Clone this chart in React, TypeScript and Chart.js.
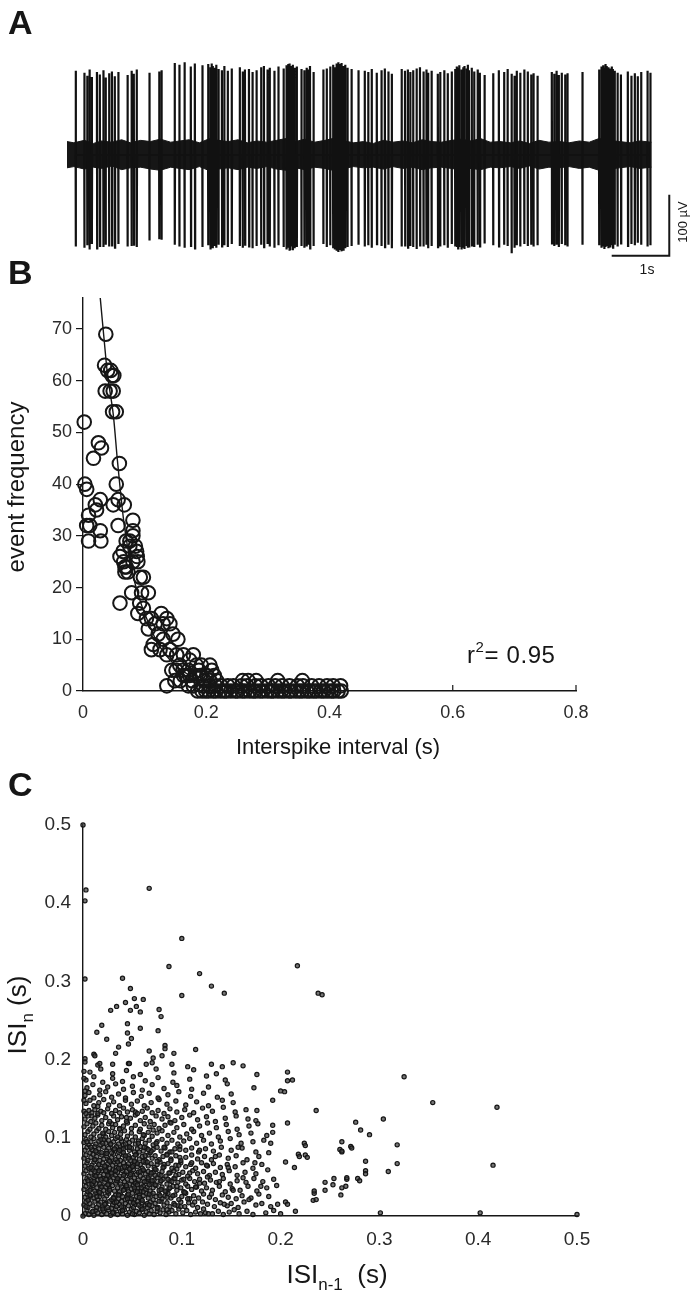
import React, { useEffect, useRef } from "react";
import { Chart, registerables } from "chart.js";

Chart.register(...registerables);

const FONT = "'Liberation Sans', Arial, Helvetica, sans-serif";
const INK = "#161616";

/* ---------------- Panel A : extracellular trace ---------------- */
const spikeTimes = [
  0.15, 0.30, 0.35, 0.39, 0.43, 0.52, 0.57, 0.63, 0.67, 0.73,
  0.78, 0.83, 0.89, 1.05, 1.12, 1.16, 1.21, 1.43, 1.60, 1.64,
  1.87, 1.95, 2.04, 2.15, 2.22, 2.35, 2.45, 2.49, 2.51, 2.53,
  2.56, 2.59, 2.63, 2.69, 2.73, 2.79, 2.86, 3.00, 3.05, 3.09,
  3.16, 3.22, 3.29, 3.37, 3.42, 3.48, 3.52, 3.60, 3.67, 3.76,
  3.81, 3.84, 3.86, 3.87, 3.90, 3.92, 3.95, 3.99, 4.07, 4.12,
  4.16, 4.19, 4.22, 4.28, 4.45, 4.51, 4.57, 4.62, 4.65, 4.68,
  4.70, 4.71, 4.74, 4.76, 4.77, 4.80, 4.83, 4.87, 4.94, 5.06,
  5.17, 5.23, 5.29, 5.38, 5.46, 5.52, 5.58, 5.64, 5.81, 5.87,
  5.92, 5.96, 6.01, 6.07, 6.13, 6.19, 6.24, 6.27, 6.33, 6.44,
  6.48, 6.55, 6.61, 6.68, 6.74, 6.77, 6.79, 6.81, 6.85, 6.88,
  6.90, 6.94, 6.96, 6.98, 7.03, 7.07, 7.13, 7.17, 7.25, 7.40,
  7.50, 7.59, 7.65, 7.72, 7.77, 7.81, 7.87, 7.94, 8.00, 8.06,
  8.10, 8.17, 8.42, 8.46, 8.50, 8.54, 8.59, 8.65, 8.69, 8.95,
  9.24, 9.28, 9.31, 9.33, 9.35, 9.37, 9.40, 9.43, 9.46, 9.48,
  9.51, 9.56, 9.62, 9.74, 9.80, 9.86, 9.91, 9.97, 10.08, 10.13,
];
const spikeUpUv = [
  138, 135, 130, 140, 128, 136, 132, 139, 127, 134,
  137, 129, 136, 131, 138, 133, 140, 135, 137, 139,
  151, 148, 152, 145, 150, 147, 149, 144, 150, 146,
  143, 148, 141, 139, 146, 138, 142, 144, 137, 140,
  141, 136, 139, 144, 146, 140, 143, 138, 145, 142,
  147, 149, 144, 150, 146, 148, 143, 145, 141, 139,
  143, 140, 146, 136, 140, 142, 145, 148, 144, 150,
  147, 152, 149, 145, 151, 146, 148, 143, 141, 139,
  138, 136, 141, 135, 139, 142, 137, 133, 141, 138,
  140, 136, 139, 142, 144, 137, 140, 135, 138, 133,
  136, 139, 134, 137, 141, 145, 143, 147, 140, 144,
  146, 142, 148, 139, 143, 137, 140, 135, 131, 134,
  139, 136, 141, 133, 130, 138, 135, 140, 137, 132,
  134, 130, 136, 133, 138, 131, 135, 132, 134, 136,
  140, 145, 147, 143, 149, 146, 144, 142, 145, 141,
  138, 135, 132, 137, 130, 134, 129, 136, 138, 135,
];
const spikeDownUv = [
  -150, -152, -148, -155, -146, -153, -149, -151, -147, -150,
  -148, -152, -146, -150, -149, -147, -151, -140, -138, -139,
  -147, -150, -152, -149, -153, -151, -148, -155, -150, -153,
  -149, -152, -147, -150, -148, -151, -146, -149, -152, -147,
  -150, -153, -149, -147, -151, -146, -150, -152, -148, -151,
  -155, -152, -157, -154, -150, -156, -153, -151, -149, -152,
  -150, -147, -153, -149, -146, -151, -148, -153, -155, -157,
  -156, -159, -154, -158, -155, -157, -153, -151, -149, -147,
  -150, -148, -152, -146, -149, -151, -147, -153, -150, -148,
  -152, -149, -151, -154, -148, -150, -147, -153, -149, -151,
  -150, -148, -152, -146, -150, -149, -153, -151, -155, -152,
  -154, -149, -152, -150, -148, -151, -147, -150, -145, -148,
  -150, -147, -149, -161, -152, -148, -150, -146, -149, -147,
  -150, -148, -145, -149, -147, -151, -146, -148, -150, -147,
  -148, -152, -150, -154, -151, -149, -153, -150, -148, -152,
  -147, -150, -145, -149, -146, -148, -144, -147, -150, -148,
];
const noiseTimes = [
  0, 0.12, 0.3, 0.46, 0.6, 0.78, 0.95, 1.1, 1.28, 1.45,
  1.62, 1.8, 1.96, 2.12, 2.3, 2.48, 2.63, 2.8, 2.97, 3.13,
  3.3, 3.47, 3.64, 3.8, 3.97, 4.13, 4.3, 4.48, 4.66, 4.82,
  4.98, 5.15, 5.32, 5.5, 5.66, 5.83, 6.0, 6.17, 6.33, 6.5,
  6.68, 6.85, 7.02, 7.18, 7.35, 7.52, 7.7, 7.86, 8.03, 8.2,
  8.37, 8.55, 8.72, 8.9, 9.07, 9.24, 9.42, 9.6, 9.78, 9.95,
  10.15,
];
const noiseTopUv = [
  22, 20, 24, 19, 23, 21, 25, 20, 24, 22,
  26, 21, 23, 25, 20, 27, 24, 22, 25, 20,
  23, 21, 24, 27, 22, 26, 21, 24, 28, 23,
  20, 22, 19, 24, 21, 23, 20, 25, 22, 21,
  24, 26, 23, 27, 21, 22, 20, 23, 19, 24,
  21, 22, 20, 23, 21, 27, 24, 22, 20, 23,
  21,
];
const noiseBottomUv = [
  -21, -19, -23, -20, -22, -18, -24, -21, -20, -23,
  -25, -20, -22, -24, -19, -26, -23, -21, -24, -20,
  -22, -19, -23, -25, -21, -24, -20, -22, -26, -22,
  -19, -21, -20, -23, -19, -22, -20, -24, -21, -20,
  -22, -25, -22, -24, -20, -21, -19, -22, -18, -23,
  -20, -21, -19, -22, -20, -25, -23, -21, -19, -22,
  -20,
];
const traceMaxSec = 10.16;
const scaleBarStartSec = 9.46;
const scaleBarSec = 1;
const scaleBarUv = 100;
const scaleBarBaseUv = -165;

/* ---------------- Panel B : ISI histogram ---------------- */
const isiHistogram: [number, number][] = [
  [0.037, 69], [0.035, 63], [0.040, 62], [0.045, 62], [0.047, 61], [0.050, 61],
  [0.036, 58], [0.044, 58], [0.049, 58], [0.048, 54], [0.054, 54], [0.002, 52],
  [0.025, 48], [0.030, 47], [0.017, 45], [0.059, 44], [0.003, 40], [0.006, 39],
  [0.054, 40], [0.028, 37], [0.020, 36], [0.022, 35], [0.057, 37], [0.049, 36],
  [0.067, 36], [0.009, 34], [0.011, 32], [0.006, 32], [0.028, 31], [0.057, 32],
  [0.009, 29], [0.029, 29], [0.081, 33], [0.081, 31], [0.076, 29], [0.066, 25],
  [0.068, 24], [0.068, 23], [0.085, 28], [0.088, 26], [0.089, 25], [0.093, 22],
  [0.070, 29], [0.081, 30], [0.076, 28], [0.087, 27], [0.065, 27], [0.060, 26],
  [0.070, 24], [0.081, 25], [0.073, 23], [0.098, 22], [0.079, 19], [0.060, 17],
  [0.095, 19], [0.106, 19], [0.092, 17], [0.098, 16], [0.089, 15], [0.103, 14],
  [0.111, 14], [0.127, 15], [0.136, 14], [0.117, 13], [0.130, 13], [0.106, 12],
  [0.122, 11], [0.141, 13], [0.146, 11], [0.154, 10], [0.114, 9], [0.130, 10],
  [0.111, 8], [0.125, 8], [0.141, 8], [0.136, 7], [0.152, 7], [0.163, 7],
  [0.179, 7], [0.173, 6], [0.157, 5], [0.184, 5], [0.192, 5], [0.206, 5],
  [0.136, 1], [0.149, 2], [0.144, 4], [0.163, 3], [0.173, 3], [0.190, 3], [0.206, 2],
];
const isiTailZero = [
  0.186, 0.193, 0.199, 0.204, 0.211, 0.216, 0.223, 0.229, 0.233, 0.24,
  0.247, 0.251, 0.258, 0.263, 0.27, 0.276, 0.28, 0.287, 0.292, 0.299,
  0.305, 0.309, 0.316, 0.322, 0.327, 0.334, 0.338, 0.345, 0.351, 0.356,
  0.363, 0.368, 0.374, 0.379, 0.386, 0.391, 0.397, 0.403, 0.407, 0.414, 0.419,
];
const isiTailLow: [number, number][] = [
  [0.171, 1], [0.179, 1], [0.195, 1], [0.206, 1], [0.215, 1], [0.224, 1], [0.235, 1],
  [0.244, 1], [0.257, 1], [0.266, 1], [0.28, 1], [0.289, 1], [0.301, 1], [0.312, 1],
  [0.323, 1], [0.335, 1], [0.348, 1], [0.357, 1], [0.371, 1], [0.383, 1], [0.396, 1],
  [0.406, 1], [0.418, 1],
  [0.158, 2], [0.177, 2], [0.197, 2], [0.217, 2], [0.259, 2], [0.268, 2], [0.281, 2],
  [0.316, 2], [0.356, 2],
  [0.167, 3], [0.183, 3], [0.201, 3], [0.213, 3],
  [0.151, 4], [0.162, 4], [0.171, 4], [0.188, 4], [0.209, 4],
];
const fitSec = [0.028, 0.035, 0.04, 0.049, 0.056, 0.067, 0.08, 0.09, 0.1, 0.12, 0.14, 0.16, 0.18, 0.2, 0.25, 0.3, 0.4, 0.8];
const fitFreq = [76, 67, 61, 53.6, 44.4, 32, 23, 18.5, 15, 9.5, 6.2, 4, 2.6, 1.7, 0.5, 0.2, 0.02, 0];
const histInnerTicks = [0.2, 0.4, 0.6, 0.8];

/* ---------------- Panel C : return map (ms pairs: ISI n-1, ISI n) ---------------- */
const isiCoreMs = [
  2,3, 4,8, 6,2, 9,5, 11,1, 13,7, 15,4, 17,9, 19,2, 21,6, 24,3, 26,8, 28,1, 31,5, 33,9, 35,2, 38,6, 40,3, 42,8, 45,1,
  47,5, 49,9, 52,2, 54,6, 57,4, 59,8, 62,1, 64,5, 67,3, 69,7, 72,2, 75,6, 78,4, 81,8, 84,2, 87,5, 90,7, 94,3, 97,9, 101,4,
  105,7, 109,2, 114,5, 119,3, 124,4, 127,3, 131,3, 137,6, 142,2, 148,5, 153,8, 158,3, 166,6, 172,2, 185,4, 193,7,
  1,14, 3,18, 5,11, 7,16, 10,13, 12,19, 14,11, 16,15, 18,18, 20,12, 23,16, 25,11, 27,19, 30,14, 32,17, 34,12, 37,15, 39,19,
  41,11, 43,16, 46,13, 48,18, 51,11, 53,15, 55,19, 58,12, 60,17, 63,14, 65,11, 68,18, 70,13, 73,16, 76,11, 79,19, 82,14,
  85,17, 88,12, 92,16, 96,13, 99,18, 103,12, 107,17, 111,14, 116,11, 121,18, 126,15, 133,12, 139,17, 146,13, 150,16,
  157,11, 163,18, 175,14, 181,16, 190,12, 197,15,
  2,24, 4,28, 6,21, 8,26, 11,23, 13,29, 15,21, 17,25, 19,28, 22,22, 24,26, 26,29, 29,21, 31,24, 33,27, 36,22, 38,28, 40,25,
  43,21, 45,27, 47,23, 50,29, 52,21, 54,25, 57,28, 59,22, 61,26, 64,29, 66,23, 69,27, 71,21, 74,25, 77,28, 80,22, 83,26,
  86,29, 89,23, 93,27, 97,21, 100,25, 104,29, 108,22, 112,26, 117,23, 122,28, 128,24, 134,21, 141,27, 147,24, 155,22,
  161,26, 170,23, 178,28, 188,25,
  1,34, 3,38, 5,31, 8,35, 10,39, 12,32, 14,36, 16,31, 18,38, 21,33, 23,37, 25,31, 27,35, 30,39, 32,32, 35,36, 37,31, 39,38,
  42,34, 44,37, 46,31, 49,35, 51,39, 53,33, 56,36, 58,31, 61,38, 63,34, 65,37, 68,32, 71,36, 74,39, 77,33, 80,37, 84,31,
  87,35, 91,38, 95,33, 99,36, 102,31, 106,38, 110,34, 115,37, 120,32, 125,36, 131,33, 138,38, 144,31, 151,35, 159,33,
  167,38, 176,32, 186,36, 196,39,
  2,44, 4,48, 6,41, 9,45, 11,49, 13,42, 15,46, 17,41, 20,48, 22,43, 24,47, 26,41, 28,45, 31,49, 33,42, 35,46, 38,41, 40,48,
  42,44, 45,47, 47,41, 49,45, 52,49, 54,43, 56,46, 59,41, 61,48, 64,44, 66,47, 69,42, 72,46, 75,49, 78,43, 81,47, 85,41,
  88,45, 92,48, 96,43, 100,46, 104,41, 108,48, 113,44, 118,47, 123,42, 129,46, 135,43, 142,48, 149,41, 156,45, 165,43,
  173,48, 182,44, 193,47,
  1,54, 3,58, 6,51, 8,55, 10,59, 12,52, 15,56, 17,51, 19,58, 21,53, 24,57, 26,51, 28,55, 30,59, 33,52, 35,56, 37,51, 40,58,
  42,54, 44,57, 47,51, 49,55, 51,59, 54,53, 56,56, 58,51, 61,58, 63,54, 66,57, 68,52, 71,56, 74,59, 77,53, 80,57, 84,51,
  88,55, 92,58, 97,53, 101,56, 106,51, 111,58, 116,54, 122,57, 128,52, 134,56, 141,53, 148,58, 156,52, 164,56, 175,54, 187,59,
  2,64, 4,68, 6,61, 9,65, 11,69, 14,62, 16,66, 18,61, 20,68, 23,63, 25,67, 27,61, 30,65, 32,69, 34,62, 37,66, 39,61, 41,68,
  44,64, 46,67, 48,61, 51,65, 53,69, 55,63, 58,66, 60,61, 63,68, 66,64, 69,67, 72,62, 75,66, 78,69, 82,63, 86,67, 90,61,
  94,65, 99,68, 104,63, 109,66, 114,61, 120,68, 126,64, 132,67, 139,62, 146,66, 154,63, 162,68, 172,61, 181,66,
  1,74, 3,78, 5,71, 8,75, 10,79, 12,72, 14,76, 17,71, 19,78, 21,73, 24,77, 26,71, 29,75, 31,79, 33,72, 36,76, 38,71, 41,78,
  43,74, 46,77, 48,71, 51,75, 54,79, 57,73, 60,76, 63,71, 66,78, 70,74, 73,77, 77,72, 81,76, 85,79, 89,73, 94,77, 99,71,
  104,75, 110,78, 116,73, 123,76, 130,72, 138,78, 147,74, 155,77, 166,72, 178,76,
  2,84, 4,88, 7,81, 9,85, 12,89, 14,82, 16,86, 19,81, 21,88, 24,83, 26,87, 29,81, 31,85, 34,89, 36,82, 39,86, 41,81, 44,88,
  47,84, 49,87, 52,82, 55,86, 58,89, 61,83, 64,87, 68,81, 71,85, 75,88, 79,83, 83,87, 88,82, 93,86, 98,89, 104,84, 110,87,
  117,82, 124,86, 132,83, 140,88, 150,84, 161,87, 175,82, 188,81,
  1,94, 3,98, 6,91, 8,95, 11,99, 13,92, 16,96, 18,91, 21,98, 23,93, 26,97, 28,91, 31,95, 33,99, 36,92, 39,96, 41,91, 44,98,
  47,94, 50,97, 53,92, 56,96, 60,99, 63,93, 67,97, 71,91, 75,95, 80,98, 85,93, 90,97, 96,92, 102,96, 108,99, 115,93,
  122,97, 130,92, 139,96, 149,99, 160,93, 172,95, 183,97,
];
const isiDenseMs = [
  10,6, 20,9, 30,4, 40,7, 50,3, 60,9, 14,25, 27,33, 36,27, 44,39, 55,31, 62,44, 18,47, 29,55, 41,52, 50,63, 58,57, 66,49,
  12,72, 22,64, 35,69, 46,74, 57,82, 65,69, 8,88, 20,93, 32,86, 43,92, 53,78, 62,88, 5,45, 16,58, 25,40, 34,18, 45,22,
  56,14, 67,28, 73,40, 79,52, 85,24, 90,44, 95,60, 7,33, 13,51, 24,80, 38,99, 47,60, 52,36, 60,20, 69,55, 75,10, 82,66,
  88,36, 93,14, 98,75, 103,30, 108,55, 113,18, 118,42, 125,65,
  3,12, 7,27, 9,41, 12,57, 16,66, 19,37, 22,15, 25,52, 27,70, 31,23, 34,45, 36,61, 39,12, 41,33, 43,77, 46,28, 48,53,
  51,17, 53,42, 55,67, 57,24, 59,36, 61,59, 63,77, 65,16, 67,40, 69,83, 71,29, 73,52, 75,70, 77,19, 79,45, 81,62, 83,32,
  85,8, 87,55, 89,71, 91,26, 93,48, 95,38, 97,65, 99,12, 4,95, 8,62, 13,83, 18,98, 23,47, 28,92, 33,58, 37,84, 42,63,
  47,88, 52,70, 56,93, 61,31, 66,85, 70,45, 74,93, 78,26, 82,88, 86,47, 90,82, 94,52, 98,85, 102,47, 106,22, 110,68,
  114,37, 118,84, 122,9, 126,50, 130,28, 134,76, 138,44, 143,15, 147,62, 152,33, 157,88, 162,49, 168,21, 174,68, 180,38,
  5,20, 11,44, 17,30, 23,58, 29,10, 35,48, 41,86, 49,22, 55,40, 61,70, 67,14, 73,60, 79,34, 85,78, 21,105, 37,112,
  9,128, 29,118, 53,133, 71,110, 15,140, 44,126, 88,120, 62,103,
];
const isiSpreadMs = [
  2,104, 5,108, 8,101, 11,105, 14,109, 17,102, 20,106, 23,101, 26,108, 29,103, 32,107, 35,101, 38,105, 42,109, 45,102,
  49,106, 53,101, 57,108, 61,104, 66,107, 70,102, 75,106, 80,109, 86,103, 92,107, 98,101, 105,105, 112,108, 120,103,
  128,106, 137,101, 147,108, 158,104, 170,106, 186,103,
  1,114, 4,118, 7,111, 10,115, 13,119, 16,112, 19,116, 23,111, 26,118, 30,113, 33,117, 37,111, 41,115, 45,119, 49,112,
  53,116, 58,111, 62,118, 67,114, 72,117, 77,112, 83,116, 89,119, 95,113, 102,117, 110,111, 118,115, 126,119, 135,113,
  145,117, 156,111, 168,115, 177,118,
  2,124, 5,128, 8,121, 12,125, 15,129, 19,122, 23,126, 27,121, 31,128, 35,123, 39,127, 44,121, 48,125, 53,129, 58,122,
  63,126, 68,121, 74,128, 80,124, 86,127, 93,122, 100,126, 108,129, 116,123, 125,127, 134,121, 144,125, 155,128, 167,124,
  175,122,
  1,134, 3,131, 6,135, 9,132, 12,136, 15,131, 18,134, 21,132, 25,137, 29,131, 33,135, 37,132, 41,138, 45,133, 50,136,
  55,131, 60,134, 65,138, 70,132, 76,135, 82,131, 88,137, 95,133, 103,136, 112,132, 121,138, 131,134, 142,139, 154,133,
  165,136,
  3,144, 7,148, 11,141, 16,145, 21,149, 26,142, 31,146, 37,141, 43,148, 49,143, 55,147, 62,141, 69,145, 77,149, 85,143,
  94,147, 104,142, 115,146, 127,141, 141,148, 152,145,
  2,154, 6,158, 11,151, 17,155, 23,159, 29,152, 36,156, 43,151, 51,158, 59,153, 67,157, 76,151, 86,155, 97,159, 109,153,
  122,157, 136,152, 150,156,
  4,164, 10,168, 17,161, 25,165, 33,169, 41,162, 50,166, 60,161, 70,168, 82,163, 95,167, 110,162, 127,165, 146,169,
  3,174, 11,178, 20,171, 30,176, 40,172, 51,178, 63,173, 76,177, 91,171, 108,175, 125,179, 144,174,
  7,184, 18,188, 30,182, 44,186, 58,181, 74,188, 92,183, 112,187, 135,182,
  1,185, 1,176, 2,160, 1,148,
];
const isiOutlierMs = [
  0,500, 3,417, 2,403, 67,419, 100,355, 87,319, 118,310, 100,282, 130,294, 143,285, 217,320, 238,285, 242,283,
  2,303, 40,304, 48,291, 52,278, 61,277, 43,273, 34,268, 54,268, 28,263, 48,263, 58,261, 77,264, 79,255, 19,244,
  45,246, 14,235, 45,234, 58,240, 76,237, 24,226, 49,227, 46,220, 36,216, 83,218, 83,214, 114,213, 67,211, 33,208,
  11,207, 12,205, 92,208, 80,205, 71,202, 2,201, 2,197, 15,193, 17,195, 30,194, 46,195, 47,195, 64,194, 70,196,
  90,194, 106,191, 130,194, 141,191, 152,196, 162,192,
  276,120, 281,110, 236,135, 207,184, 212,174, 207,173, 200,160, 204,159, 192,148, 176,181, 173,164, 176,135,
  207,119, 192,116, 192,107, 190,93, 224,93, 225,78, 218,79, 214,62, 205,69, 262,95, 260,85, 271,89, 253,40,
  261,27, 266,38, 245,33, 233,20, 236,21, 278,48, 280,45, 205,18, 207,15, 215,6, 200,3, 325,178, 354,145, 419,139,
  415,65, 301,4, 402,4, 500,2, 304,124, 318,91, 318,67, 309,57, 290,104, 272,87, 262,82, 262,83, 286,70, 286,58,
  286,54, 267,47, 267,49, 262,36, 254,48, 245,43, 234,29, 234,32, 225,90, 227,75, 219,76, 0,0,
];

/* ---------------- helpers ---------------- */
const msPairs = (arr: number[]) => {
  const out: { x: number; y: number }[] = [];
  for (let i = 0; i + 1 < arr.length; i += 2) out.push({ x: arr[i] / 1000, y: arr[i + 1] / 1000 });
  return out;
};

const innerTicksPlugin = (values: number[], len: number) => ({
  id: "innerTicks",
  afterDraw(chart: any) {
    const { ctx, chartArea } = chart;
    const x = chart.scales.x;
    ctx.save();
    ctx.strokeStyle = INK;
    ctx.lineWidth = 1.2;
    values.forEach((v) => {
      const px = x.getPixelForValue(v);
      ctx.beginPath();
      ctx.moveTo(px, chartArea.bottom);
      ctx.lineTo(px, chartArea.bottom - len);
      ctx.stroke();
    });
    ctx.restore();
  },
});

const scaleBarPlugin = {
  id: "scaleBar",
  afterDraw(chart: any) {
    const { ctx } = chart;
    const x = chart.scales.x;
    const y = chart.scales.y;
    const x0 = x.getPixelForValue(scaleBarStartSec);
    const x1 = x.getPixelForValue(scaleBarStartSec + scaleBarSec);
    const y0 = y.getPixelForValue(scaleBarBaseUv);
    const y1 = y.getPixelForValue(scaleBarBaseUv + scaleBarUv);
    ctx.save();
    ctx.strokeStyle = INK;
    ctx.lineWidth = 2;
    ctx.beginPath();
    ctx.moveTo(x0, y0);
    ctx.lineTo(x1, y0);
    ctx.lineTo(x1, y1);
    ctx.stroke();
    ctx.restore();
  },
};

const tickFont = (size: number) => ({ family: FONT, size });

export default function App() {
  const refA = useRef<HTMLCanvasElement>(null);
  const refB = useRef<HTMLCanvasElement>(null);
  const refC = useRef<HTMLCanvasElement>(null);

  useEffect(() => {
    /* ---- A ---- */
    const trace: { x: number; y: number }[] = [];
    const nS = Math.min(spikeTimes.length, spikeUpUv.length, spikeDownUv.length);
    for (let i = 0; i < nS; i++) {
      const t = spikeTimes[i];
      trace.push({ x: t, y: 0 }, { x: t, y: spikeUpUv[i] }, { x: t + 0.004, y: spikeDownUv[i] }, { x: t + 0.006, y: 0 });
    }
    const nN = Math.min(noiseTimes.length, noiseTopUv.length, noiseBottomUv.length);
    const top = [] as { x: number; y: number }[];
    const bot = [] as { x: number; y: number }[];
    for (let i = 0; i < nN; i++) {
      top.push({ x: noiseTimes[i], y: noiseTopUv[i] });
      bot.push({ x: noiseTimes[i], y: noiseBottomUv[i] });
    }
    const chartA = new Chart(refA.current!, {
      type: "line",
      data: {
        datasets: [
          { data: trace, borderColor: "#111", borderWidth: 2.2, pointRadius: 0, tension: 0 } as any,
          { data: top, borderColor: INK, borderWidth: 1, pointRadius: 0, fill: "+1", backgroundColor: INK, tension: 0 } as any,
          { data: bot, borderColor: INK, borderWidth: 1, pointRadius: 0, fill: false, tension: 0 } as any,
        ],
      },
      options: {
        animation: false,
        responsive: false,
        maintainAspectRatio: false,
        layout: { padding: { left: 67, right: 43, top: 33, bottom: 13 } },
        plugins: { legend: { display: false }, tooltip: { enabled: false } },
        scales: {
          x: { type: "linear", display: false, min: 0, max: traceMaxSec },
          y: { type: "linear", display: false, min: -200, max: 200 },
        },
      },
      plugins: [scaleBarPlugin],
    });

    /* ---- B ---- */
    const histPts = [
      ...isiHistogram.map(([x, y]) => ({ x, y })),
      ...isiTailZero.map((x) => ({ x, y: 0 })),
      ...isiTailLow.map(([x, y]) => ({ x, y })),
    ];
    const fitPts = fitSec.map((x, i) => ({ x, y: fitFreq[i] }));
    const chartB = new Chart(refB.current!, {
      type: "line",
      data: {
        datasets: [
          {
            data: histPts,
            showLine: false,
            pointRadius: 6.8,
            pointBorderWidth: 2,
            pointBorderColor: INK,
            pointBackgroundColor: "rgba(0,0,0,0)",
            clip: false,
          } as any,
          { data: fitPts, borderColor: INK, borderWidth: 1.4, pointRadius: 0, tension: 0.3, fill: false } as any,
        ],
      },
      options: {
        animation: false,
        responsive: false,
        maintainAspectRatio: false,
        layout: { padding: { left: 0, right: 119, top: 38, bottom: 0 } },
        plugins: { legend: { display: false }, tooltip: { enabled: false } },
        scales: {
          x: {
            type: "linear",
            min: 0,
            max: 0.8,
            afterFit: (s: any) => { s.height = 89; },
            ticks: { stepSize: 0.2, font: tickFont(18), color: "#2a2a2a", padding: 11, maxRotation: 0 },
            grid: { display: false, drawTicks: false },
            border: { display: true, color: INK, width: 1.4 },
          },
          y: {
            type: "linear",
            min: 0,
            max: 76,
            afterFit: (s: any) => { s.width = 83; },
            ticks: { stepSize: 10, includeBounds: false, font: tickFont(18), color: "#2a2a2a", padding: 4 },
            grid: { display: true, drawOnChartArea: false, drawTicks: true, tickLength: 7, color: INK, lineWidth: 1.2 },
            border: { display: true, color: INK, width: 1.4 },
          },
        },
      },
      plugins: [innerTicksPlugin(histInnerTicks, 6)],
    });

    /* ---- C ---- */
    const mapPts = [
      ...msPairs(isiCoreMs),
      ...msPairs(isiDenseMs),
      ...msPairs(isiSpreadMs),
      ...msPairs(isiOutlierMs),
    ];
    const chartC = new Chart(refC.current!, {
      type: "scatter",
      data: {
        datasets: [
          {
            data: mapPts,
            pointRadius: 2.1,
            pointBorderWidth: 1.2,
            pointBorderColor: "#151515",
            pointBackgroundColor: "rgba(60,60,60,0.7)",
            clip: false,
          } as any,
        ],
      },
      options: {
        animation: false,
        responsive: false,
        maintainAspectRatio: false,
        layout: { padding: { left: 0, right: 118, top: 45, bottom: 0 } },
        plugins: { legend: { display: false }, tooltip: { enabled: false } },
        scales: {
          x: {
            type: "linear",
            min: 0,
            max: 0.5,
            afterFit: (s: any) => { s.height = 81; },
            ticks: { stepSize: 0.1, font: tickFont(19), color: "#2a2a2a", padding: 12, maxRotation: 0 },
            grid: { display: false, drawTicks: false },
            border: { display: true, color: INK, width: 1.4 },
          },
          y: {
            type: "linear",
            min: 0,
            max: 0.5,
            afterFit: (s: any) => { s.width = 83; },
            ticks: { stepSize: 0.1, font: tickFont(19), color: "#2a2a2a", padding: 12 },
            grid: { display: false, drawTicks: false },
            border: { display: true, color: INK, width: 1.4 },
          },
        },
      },
    });

    return () => {
      chartA.destroy();
      chartB.destroy();
      chartC.destroy();
    };
  }, []);

  const abs = (s: React.CSSProperties): React.CSSProperties => ({ position: "absolute", whiteSpace: "nowrap", lineHeight: 1, color: INK, ...s });
  const rot = (cx: number, cy: number, size: number): React.CSSProperties =>
    abs({ left: cx, top: cy, fontSize: size, transform: "translate(-50%,-50%) rotate(-90deg)" });

  return (
    <div style={{ position: "absolute", left: 0, top: 0, width: 695, height: 1297, background: "#fff", fontFamily: FONT, overflow: "hidden" }}>
      <canvas ref={refA} width={695} height={290} style={{ position: "absolute", left: 0, top: 0, width: 695, height: 290 }} />
      <canvas ref={refB} width={695} height={520} style={{ position: "absolute", left: 0, top: 260, width: 695, height: 520 }} />
      <canvas ref={refC} width={695} height={517} style={{ position: "absolute", left: 0, top: 780, width: 695, height: 517 }} />

      <div style={abs({ left: 8, top: 5, fontSize: 34, fontWeight: "bold" })}>A</div>
      <div style={abs({ left: 8, top: 255, fontSize: 34, fontWeight: "bold" })}>B</div>
      <div style={abs({ left: 8, top: 767, fontSize: 34, fontWeight: "bold" })}>C</div>

      <div style={abs({ left: 647, top: 262, fontSize: 14, transform: "translateX(-50%)" })}>1s</div>
      <div style={rot(682, 222, 13)}>100 µV</div>

      <div style={rot(16, 487, 24)}>event frequency</div>
      <div style={abs({ left: 338, top: 736, fontSize: 22, transform: "translateX(-50%)" })}>Interspike interval (s)</div>
      <div style={abs({ left: 467, top: 643, fontSize: 24, letterSpacing: 0.6 })}>
        r<span style={{ fontSize: 15, position: "relative", top: -11 }}>2</span>= 0.95
      </div>

      <div style={rot(17, 1015, 26)}>
        ISI<span style={{ fontSize: 17, position: "relative", top: 7 }}>n</span> (s)
      </div>
      <div style={abs({ left: 337, top: 1261, fontSize: 26, transform: "translateX(-50%)" })}>
        ISI<span style={{ fontSize: 17, position: "relative", top: 7 }}>n-1</span> &nbsp;(s)
      </div>
    </div>
  );
}
